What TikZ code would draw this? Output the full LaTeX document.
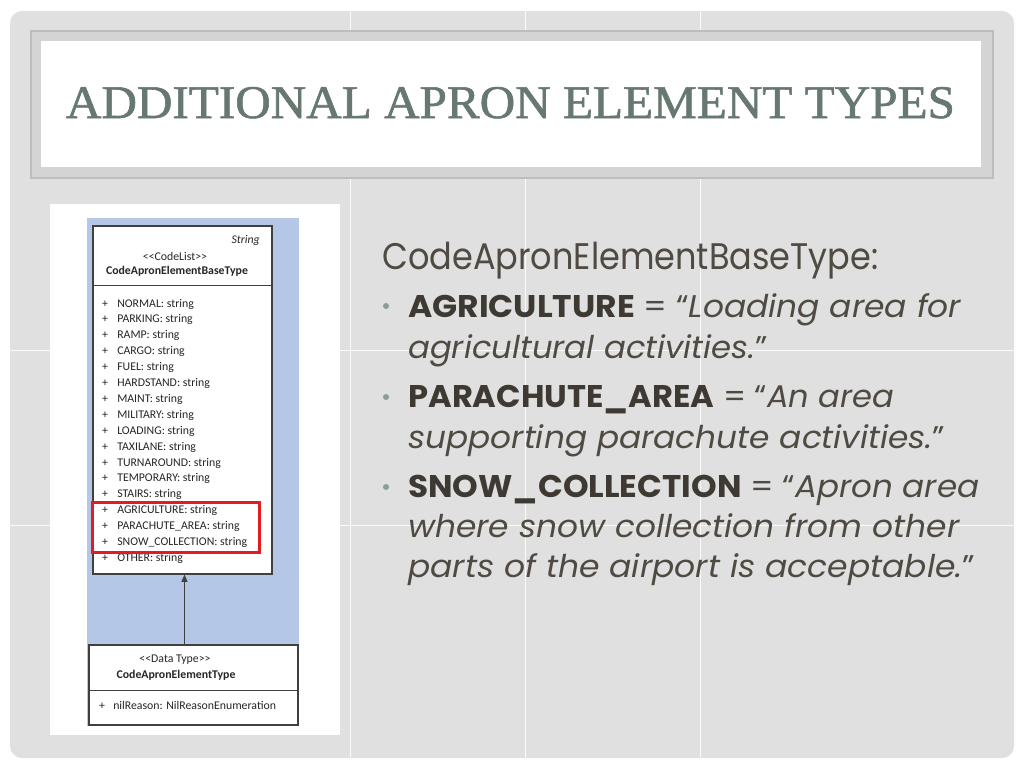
\documentclass[tikz,border=0pt]{standalone}
\usepackage{fontspec}
\setmainfont{Liberation Serif}
\newfontfamily\titlefont[FakeBold=1.2]{Liberation Serif}
\newfontfamily\bodyfont{Poppins}
\newfontfamily\umlfont{Carlito}
\usetikzlibrary{arrows.meta,calc}
\definecolor{slidegray}{HTML}{E0E0E0}
\definecolor{framefill}{HTML}{D4D4D4}
\definecolor{frameline}{HTML}{BDBDBD}
\definecolor{titlecol}{HTML}{66786F}
\definecolor{bodytext}{HTML}{4F4A42}
\definecolor{boldtext}{HTML}{3E3A33}
\definecolor{bulletcol}{HTML}{8C9C98}
\definecolor{umlblue}{HTML}{B4C7E7}
\definecolor{umlline}{HTML}{404040}
\definecolor{hlred}{HTML}{E31B23}
\tikzset{
  gridline/.style={white, line width=0.75pt, opacity=0.9},
  umlbox/.style={draw=umlline, fill=white, line width=0.8pt, inner sep=0pt},
  umltext/.style={font=\umlfont\fontsize{8.85pt}{10pt}\selectfont, text=black!85, inner sep=0pt},
  umlrow/.style={umltext, anchor=base west},
  umlplus/.style={umltext, anchor=base},
  bodyline/.style={anchor=base west, inner sep=0pt, text=bodytext,
    font=\bodyfont\fontsize{23.5pt}{26pt}\selectfont},
  headline/.style={anchor=base west, inner sep=0pt, text=bodytext,
    font=\bodyfont\fontsize{27.75pt}{30pt}\selectfont},
  bulletdot/.style={circle, fill=bulletcol, inner sep=0pt, minimum size=4.5pt},
}
\newcommand{\kw}[1]{{\bfseries\color{boldtext}#1}}
\newcommand{\fitw}[2]{\resizebox{#1}{\height}{#2}}
\begin{document}
\begin{tikzpicture}[x=0.75pt,y=-0.75pt]
\useasboundingbox (0,0) rectangle (1024,768);
\fill[white] (0,0) rectangle (1024,768);
% slide background
\fill[slidegray, rounded corners=9pt] (10,11) rectangle (1014,758);
\foreach \gx in {350,525,700} \draw[gridline] (\gx,11) -- (\gx,758);
\foreach \gy in {350,525} \draw[gridline] (10,\gy) -- (1014,\gy);
% title frame
\draw[fill=framefill, draw=frameline, line width=0.9pt] (31,31) rectangle (993,178);
\fill[white] (41,41) rectangle (981,167);
\node[anchor=base, inner sep=0pt, text=titlecol] (title) at (510.5,118)
  {\fitw{666.75pt}{\titlefont\fontsize{35.1pt}{40pt}\selectfont ADDITIONAL APRON ELEMENT TYPES}};
% picture panel
\fill[white] (50,204) rectangle (340,735);
\fill[umlblue] (87,218) rectangle (299,726);
% top class box
\node[umlbox, minimum width=134.25pt, minimum height=261pt] (top) at (182.5,400) {};
\draw[umlline, line width=0.8pt] ($(top.north west)+(0,60)$) -- ($(top.north east)+(0,60)$);
\node[umltext, anchor=base east, font=\umlfont\itshape\fontsize{8.85pt}{10pt}\selectfont] (str) at (260,243) {String};
\node[umltext, anchor=base] (cl) at (175,260) {<{}<CodeList>{}>};
\node[umltext, anchor=base, font=\umlfont\bfseries\fontsize{8.85pt}{10pt}\selectfont] (cname) at (177,274) {CodeApronElementBaseType};
\foreach \lab [count=\i from 0] in {NORMAL,PARKING,RAMP,CARGO,FUEL,HARDSTAND,MAINT,MILITARY,LOADING,TAXILANE,TURNAROUND,TEMPORARY,STAIRS,AGRICULTURE,PARACHUTE\_AREA,SNOW\_COLLECTION,OTHER}{
  \node[umlplus] (p\i) at (105,{307+15.9*\i}) {+};
  \node[umlrow] (r\i) at (117,{307+15.9*\i}) {\lab: string};
}
% highlight
\draw[hlred, line width=2.25pt] (92,502) rectangle (259,552);
% bottom data type box
\node[umlbox, minimum width=156.75pt, minimum height=60pt] (bot) at (193.5,685) {};
\draw[umlline, line width=0.8pt] ($(bot.north west)+(0,46)$) -- ($(bot.north east)+(0,46)$);
\node[umltext, anchor=base] (dt) at (175,662) {<{}<Data Type>{}>};
\node[umltext, anchor=base, font=\umlfont\bfseries\fontsize{8.85pt}{10pt}\selectfont] (dname) at (176,678) {CodeApronElementType};
\node[umlplus] (pn) at (102,709) {+};
\node[umlrow] (nil) at (113,709) {nilReason: NilReasonEnumeration};
% generalisation arrow
\coordinate (ax) at (184.5,610);
\draw[umlline, line width=0.8pt, -{Triangle[length=5.5pt,width=4.5pt]}] (bot.north -| ax) -- (top.south -| ax);
% body text
\node[headline] (h) at (382,269) {\fitw{372pt}{CodeApronElementBaseType:}};
\node[bulletdot] (b1) at (386,306) {};
\node[bulletdot] (b2) at (386,397) {};
\node[bulletdot] (b3) at (386,487) {};
\node[bodyline] (l2) at (408,317) {\fitw{414.75pt}{\kw{AGRICULTURE} = “{\itshape Loading area for}}};
\node[bodyline] (l3) at (408,358) {\fitw{269.25pt}{{\itshape agricultural activities.}”}};
\node[bodyline] (l4) at (408,407) {\fitw{364.5pt}{\kw{PARACHUTE\_AREA} = “{\itshape An area}}};
\node[bodyline] (l5) at (408,448) {\fitw{402.75pt}{{\itshape supporting parachute activities.}”}};
\node[bodyline] (l6) at (408,497) {\fitw{428.25pt}{\kw{SNOW\_COLLECTION} = “{\itshape Apron area}}};
\node[bodyline] (l7) at (408,537) {\fitw{413.25pt}{{\itshape where snow collection from other}}};
\node[bodyline] (l8) at (408,577) {\fitw{425.25pt}{{\itshape parts of the airport is acceptable.}”}};
\end{tikzpicture}
\end{document}
